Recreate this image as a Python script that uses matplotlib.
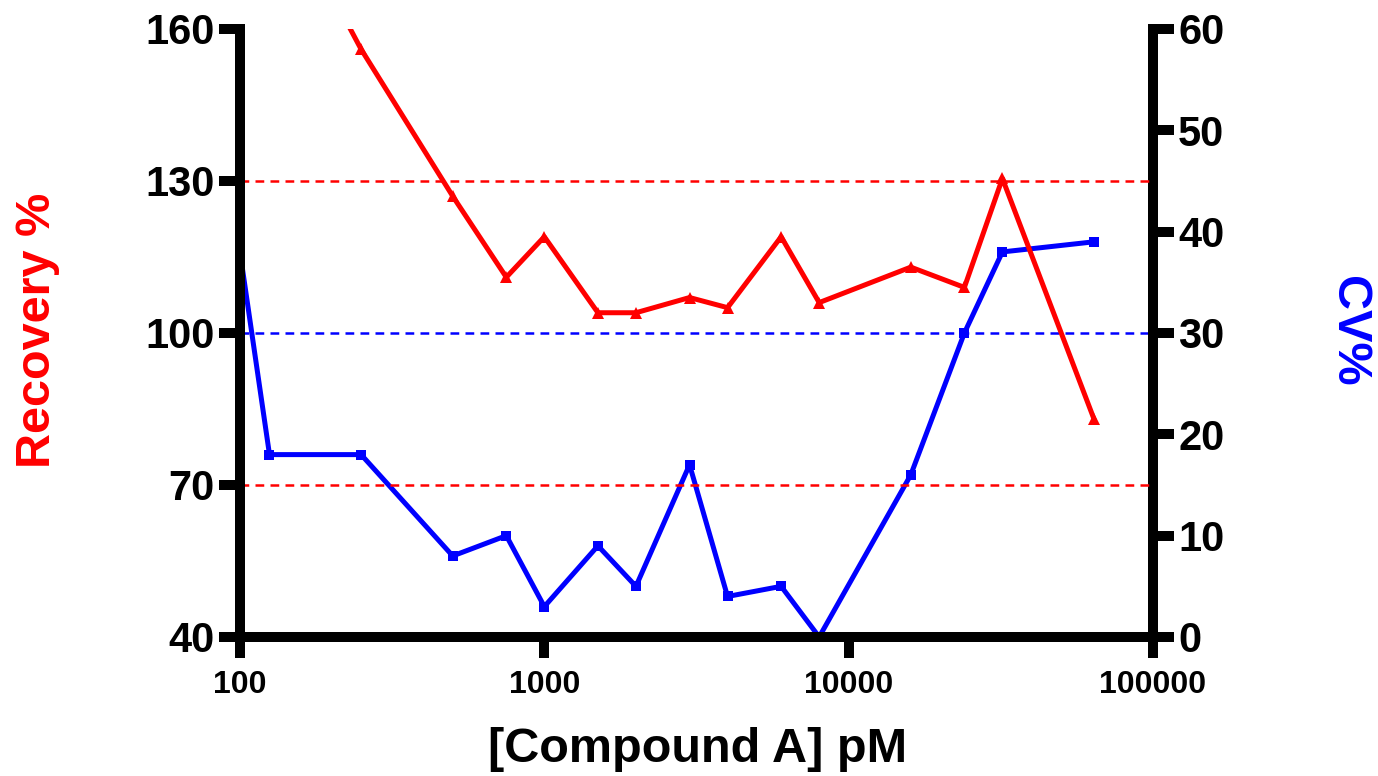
import matplotlib
matplotlib.use("Agg")
import matplotlib.pyplot as plt
from matplotlib.ticker import FixedLocator, FixedFormatter, NullLocator

# ---- data ----
conc_recovery = [125, 250, 500, 750, 1000, 1500, 2000, 3000, 4000, 6000, 8000, 16000, 24000, 32000, 64000]
recovery = [190, 156, 127, 111, 119, 104, 104, 107, 105, 119, 106, 113, 109, 130.5, 83]
conc_cv = [100, 125, 250, 500, 750, 1000, 1500, 2000, 3000, 4000, 6000, 8000, 16000, 24000, 32000, 64000]
cv = [38, 18, 18, 8, 10, 3, 9, 5, 17, 4, 5, 0, 16, 30, 38, 39]

recovery_limits = [70, 130]
cv_limit = 30
x_ticks = [100, 1000, 10000, 100000]
x_tick_labels = ["100", "1000", "10000", "100000"]
left_ticks = [40, 70, 100, 130, 160]
right_ticks = [0, 10, 20, 30, 40, 50, 60]

plt.rcParams['font.family'] = ['Liberation Sans', 'DejaVu Sans']
plt.rcParams['font.weight'] = 'bold'

fig = plt.figure(figsize=(13.78, 7.76), dpi=100)
ax = fig.add_axes([240/1378, 1-637/776, (1153-240)/1378, (637-29)/776])
ax2 = ax.twinx()

# order: red axis on top of blue
ax.set_zorder(ax2.get_zorder() + 1)
ax.patch.set_visible(False)

ax.set_xscale('log')
ax.set_xlim(100, 100000)
ax.set_ylim(40, 160)
ax2.set_ylim(0, 60)

# reference lines
for lim in recovery_limits:
    ax.axhline(lim, color='#FF0000', lw=1.8, dashes=(3.5, 2.5), zorder=1)
ax2.axhline(cv_limit, color='#0000FF', lw=1.8, dashes=(3.5, 2.5), zorder=1)

ax.plot(conc_recovery, recovery, color='#FF0000', lw=3.6, marker='^', ms=9,
        markeredgewidth=0, zorder=3)
ax2.plot(conc_cv, cv, color='#0000FF', lw=3.6, marker='s', ms=7.5,
         markeredgewidth=0, zorder=3)

for a in (ax, ax2):
    a.spines['top'].set_visible(False)
    for s in a.spines.values():
        s.set_linewidth(7.2)
        s.set_capstyle('projecting')
ax.spines['right'].set_visible(False)
ax2.spines['left'].set_visible(False)
ax2.spines['bottom'].set_visible(False)

ax.xaxis.set_major_locator(FixedLocator(x_ticks))
ax.xaxis.set_major_formatter(FixedFormatter(x_tick_labels))
ax.xaxis.set_minor_locator(NullLocator())
ax.set_yticks(left_ticks)
ax.set_yticklabels([str(t) for t in left_ticks])
ax2.set_yticks(right_ticks)
ax2.set_yticklabels([str(t) for t in right_ticks])

ax.tick_params(axis='x', length=15, width=7.2, pad=9, labelsize=23, direction='out')
ax.tick_params(axis='y', length=15, width=7.2, pad=3, labelsize=30, direction='out')
ax2.tick_params(axis='y', length=15, width=7.2, pad=3, labelsize=30, direction='out')
for a in (ax, ax2):
    for line in a.xaxis.get_ticklines() + a.yaxis.get_ticklines():
        line.set_solid_capstyle('round')
    for lbl in a.get_xticklabels() + a.get_yticklabels():
        lbl.set_fontweight('bold')

fig.text(38/1378, 1-330/776, "Recovery %", rotation=90, ha='center', va='center',
         color='#FF0000', fontsize=35, fontweight='bold')
fig.text(1349/1378, 1-331/776, "CV%", rotation=270, ha='center', va='center',
         color='#0000FF', fontsize=35, fontweight='bold')
fig.text(698/1378, 1-750/776, "[Compound A] pM", ha='center', va='center',
         color='black', fontsize=35, fontweight='bold')

fig.savefig("out.png", dpi=100)
